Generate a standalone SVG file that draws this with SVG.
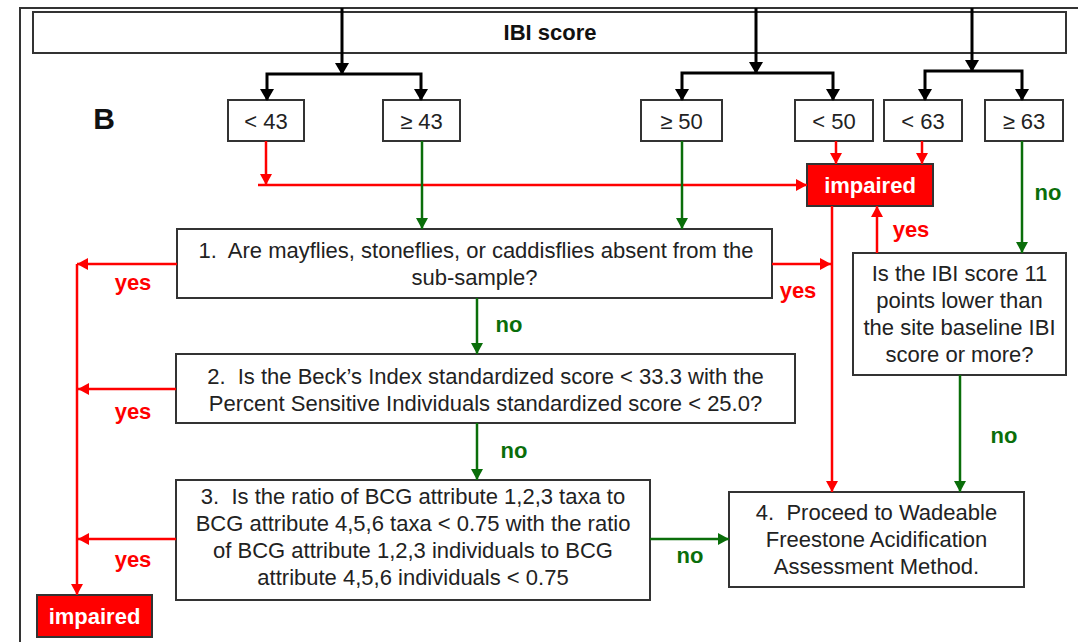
<svg xmlns="http://www.w3.org/2000/svg" width="1078" height="642" viewBox="0 0 1078 642">
<style>
.box{fill:#fff;stroke:#333;stroke-width:2}
.imp{fill:#ff0000;stroke:#333;stroke-width:2}
.t{font-family:"Liberation Sans",Arial,sans-serif;font-size:22px;fill:#222;text-anchor:middle}
.b{font-family:"Liberation Sans",Arial,sans-serif;font-weight:bold;text-anchor:middle}
.wt{fill:#fff;font-size:22px}
.yes{fill:#ff0000;font-size:22px}
.no{fill:#0a6e0a;font-size:22px}
.k{fill:none;stroke:#000;stroke-width:3}
.r{fill:none;stroke:#ff0000;stroke-width:2.5}
.g{fill:none;stroke:#0a6e0a;stroke-width:2.5}
</style>
<defs>
<marker id="ak" markerUnits="userSpaceOnUse" markerWidth="16" markerHeight="14" refX="11" refY="7" orient="auto"><path d="M0,0 L12,7 L0,14 Z" fill="#000"/></marker>
<marker id="ar" markerUnits="userSpaceOnUse" markerWidth="14" markerHeight="14" refX="11" refY="7" orient="auto"><path d="M0,1 L11,7 L0,13 Z" fill="#ff0000"/></marker>
<marker id="ag" markerUnits="userSpaceOnUse" markerWidth="14" markerHeight="14" refX="11" refY="7" orient="auto"><path d="M0,1 L11,7 L0,13 Z" fill="#0a6e0a"/></marker>
</defs>
<rect width="1078" height="642" fill="#fff"/>
<path d="M20 642 V8 H1078" fill="none" stroke="#333" stroke-width="2"/>

<g id="ibi-score"><rect class="box" x="33" y="12" width="1033" height="41"/><text class="b" x="550" y="40" font-size="22" fill="#111">IBI score</text></g>
<g id="label-b"><text class="b" x="104" y="129" font-size="30" fill="#111">B</text></g>

<g id="lt43"><rect class="box" x="228" y="100" width="76" height="41"/><text class="t" x="266" y="129">&lt; 43</text></g>
<g id="ge43"><rect class="box" x="383" y="100" width="77" height="41"/><text class="t" x="421.5" y="129">≥ 43</text></g>
<g id="ge50"><rect class="box" x="641" y="100" width="81" height="41"/><text class="t" x="681.5" y="129">≥ 50</text></g>
<g id="lt50"><rect class="box" x="795" y="100" width="78" height="41"/><text class="t" x="834" y="129">&lt; 50</text></g>
<g id="lt63"><rect class="box" x="884" y="100" width="78" height="41"/><text class="t" x="923" y="129">&lt; 63</text></g>
<g id="ge63"><rect class="box" x="985" y="100" width="78" height="41"/><text class="t" x="1024" y="129">≥ 63</text></g>

<g id="impaired-top"><rect class="imp" x="807" y="164" width="126" height="42"/><text class="b wt" x="870" y="193">impaired</text></g>
<g id="impaired-bottom"><rect class="imp" x="37" y="595" width="115" height="42"/><text class="b wt" x="94.5" y="624">impaired</text></g>

<g id="q1"><rect class="box" x="177" y="229" width="595" height="69"/>
<text class="t" x="476" y="258" xml:space="preserve">1.  Are mayflies, stoneflies, or caddisflies absent from the</text>
<text class="t" x="474.5" y="285">sub-sample?</text></g>
<g id="q2"><rect class="box" x="176" y="354" width="619" height="69"/>
<text class="t" x="485.5" y="384" xml:space="preserve">2.  Is the Beck’s Index standardized score &lt; 33.3 with the</text>
<text class="t" x="485.5" y="411">Percent Sensitive Individuals standardized score &lt; 25.0?</text></g>
<g id="q3"><rect class="box" x="176" y="480" width="474" height="120"/>
<text class="t" x="413" y="504" xml:space="preserve">3.  Is the ratio of BCG attribute 1,2,3 taxa to</text>
<text class="t" x="413" y="531">BCG attribute 4,5,6 taxa &lt; 0.75 with the ratio</text>
<text class="t" x="413" y="558">of BCG attribute 1,2,3 individuals to BCG</text>
<text class="t" x="413" y="585">attribute 4,5,6 individuals &lt; 0.75</text></g>
<g id="q4"><rect class="box" x="729" y="492" width="295" height="95"/>
<text class="t" x="876.5" y="520" xml:space="preserve">4.  Proceed to Wadeable</text>
<text class="t" x="876.5" y="547">Freestone Acidification</text>
<text class="t" x="876.5" y="574">Assessment Method.</text></g>
<g id="q-ibi"><rect class="box" x="853" y="253" width="213" height="122"/>
<text class="t" x="959.5" y="281">Is the IBI score 11</text>
<text class="t" x="959.5" y="308">points lower than</text>
<text class="t" x="959.5" y="335">the site baseline IBI</text>
<text class="t" x="959.5" y="362">score or more?</text></g>

<g id="connectors">
<path class="k" d="M342 8 V74" marker-end="url(#ak)"/>
<path class="k" d="M342 74 H267 V100" marker-end="url(#ak)"/>
<path class="k" d="M342 74 H421 V100" marker-end="url(#ak)"/>
<path class="k" d="M756 8 V73" marker-end="url(#ak)"/>
<path class="k" d="M756 73 H682 V100" marker-end="url(#ak)"/>
<path class="k" d="M756 73 H833 V100" marker-end="url(#ak)"/>
<path class="k" d="M972 8 V71" marker-end="url(#ak)"/>
<path class="k" d="M972 71 H925 V100" marker-end="url(#ak)"/>
<path class="k" d="M972 71 H1022 V100" marker-end="url(#ak)"/>

<path class="r" d="M266 141 V185" marker-end="url(#ar)"/>
<path class="r" d="M258 185 H807" marker-end="url(#ar)"/>
<path class="r" d="M836 141 V164" marker-end="url(#ar)"/>
<path class="r" d="M922 141 V164" marker-end="url(#ar)"/>
<path class="r" d="M832 206 V492" marker-end="url(#ar)"/>
<path class="r" d="M877 253 V206" marker-end="url(#ar)"/>
<path class="r" d="M772 264 H831" marker-end="url(#ar)"/>
<path class="r" d="M177 264 H77" marker-end="url(#ar)"/>
<path class="r" d="M176 389 H78" marker-end="url(#ar)"/>
<path class="r" d="M176 539 H78" marker-end="url(#ar)"/>
<path class="r" d="M77 264 V595" marker-end="url(#ar)"/>

<path class="g" d="M422 141 V229" marker-end="url(#ag)"/>
<path class="g" d="M682 141 V229" marker-end="url(#ag)"/>
<path class="g" d="M477 298 V354" marker-end="url(#ag)"/>
<path class="g" d="M477 423 V480" marker-end="url(#ag)"/>
<path class="g" d="M1022 141 V253" marker-end="url(#ag)"/>
<path class="g" d="M960 375 V492" marker-end="url(#ag)"/>
<path class="g" d="M650 539 H729" marker-end="url(#ag)"/>

<text class="b yes" x="133" y="290">yes</text>
<text class="b yes" x="133" y="419">yes</text>
<text class="b yes" x="133" y="567">yes</text>
<text class="b yes" x="798" y="298">yes</text>
<text class="b yes" x="911" y="237">yes</text>
<text class="b no" x="509" y="332">no</text>
<text class="b no" x="514" y="458">no</text>
<text class="b no" x="1048" y="200">no</text>
<text class="b no" x="1004" y="443">no</text>
<text class="b no" x="690" y="563">no</text>
</g>
</svg>
